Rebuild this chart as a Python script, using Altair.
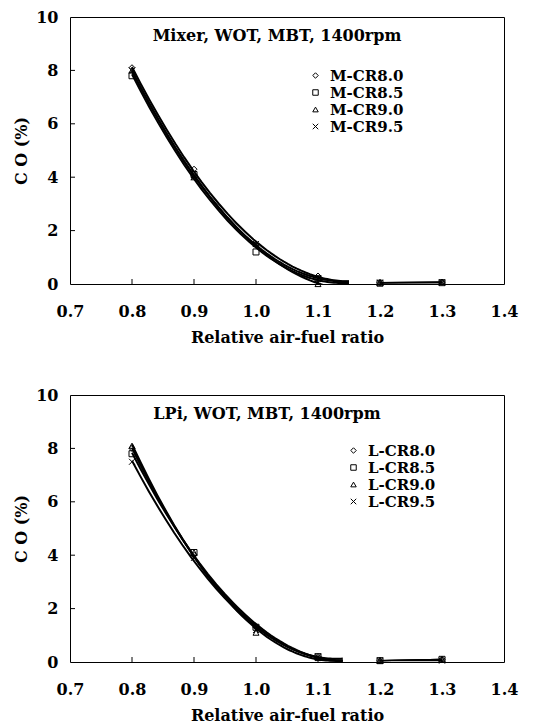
import altair as alt
import pandas as pd

# ---------------- data ----------------
afr = [0.8, 0.9, 1.0, 1.1, 1.2, 1.3]

mixer_labels = ["M-CR8.0", "M-CR8.5", "M-CR9.0", "M-CR9.5"]
m_cr80 = [8.1, 4.3, 1.5, 0.3, 0.05, 0.07]
m_cr85 = [7.8, 4.1, 1.2, 0.2, 0.03, 0.05]
m_cr90 = [8.0, 4.0, 1.5, 0.0, 0.05, 0.08]
m_cr95 = [8.0, 4.0, 1.5, 0.2, 0.05, 0.05]

lpi_labels = ["L-CR8.0", "L-CR8.5", "L-CR9.0", "L-CR9.5"]
l_cr80 = [8.0, 4.0, 1.3, 0.2, 0.05, 0.10]
l_cr85 = [7.8, 4.1, 1.3, 0.2, 0.05, 0.10]
l_cr90 = [8.1, 4.1, 1.1, 0.15, 0.05, 0.10]
l_cr95 = [7.5, 3.9, 1.2, 0.2, 0.05, 0.05]

x_tick_labels = [0.7, 0.8, 0.9, 1.0, 1.1, 1.2, 1.3, 1.4]
x_inner_ticks = [0.8, 0.9, 1.0, 1.1, 1.2, 1.3]
y_tick_labels = [0, 2, 4, 6, 8, 10]
y_inner_ticks = [2, 4, 6, 8]

shape_range = ["diamond", "square", "triangle-up", "M-1,-1L1,1M-1,1L1,-1"]

FONT = "DejaVu Serif"
W, H = 434, 267


def long_df(labels, series):
    rows = []
    for lab, vals in zip(labels, series):
        for a, v in zip(afr, vals):
            rows.append({"afr": a, "co": v, "series": lab})
    return pd.DataFrame(rows)


xs = alt.Scale(domain=[0.7, 1.4], nice=False, zero=False)
ys = alt.Scale(domain=[0, 10], nice=False)
x_axis = alt.Axis(values=x_tick_labels, format=".1f", title="Relative air-fuel ratio",
                  labelPadding=19, titlePadding=10, ticks=False, domain=False, grid=False,
                  labelFont=FONT, labelFontSize=16, labelFontWeight="bold", labelColor="black",
                  titleFont=FONT, titleFontSize=16, titleFontWeight="bold", titleColor="black",
                  labelFlush=False)
y_axis = alt.Axis(values=y_tick_labels, format="d", title="C O (%)",
                  labelPadding=12, titlePadding=6, ticks=False, domain=False, grid=False,
                  labelFont=FONT, labelFontSize=16, labelFontWeight="bold", labelColor="black",
                  titleFont=FONT, titleFontSize=16, titleFontWeight="bold", titleColor="black",
                  labelFlush=False)


def X():
    return alt.X("afr:Q", scale=xs, axis=x_axis)


def Y():
    return alt.Y("co:Q", scale=ys, axis=y_axis)


def panel(df, labels, title_text, title_x, legend_x, legend_y, fit_end):
    base = alt.Chart(df)

    points = base.mark_point(filled=False, color="black", size=36, strokeWidth=1, opacity=1).encode(
        x=X(), y=Y(),
        shape=alt.Shape(
            "series:N",
            scale=alt.Scale(domain=labels, range=shape_range),
            legend=alt.Legend(
                title=None, orient="none", legendX=legend_x, legendY=legend_y,
                labelFont=FONT, labelFontSize=15, labelFontWeight="bold", labelColor="black",
                symbolStrokeColor="black", symbolFillColor="transparent", symbolStrokeWidth=1,
                symbolSize=30, labelOffset=7, rowPadding=1, padding=0,
            ),
        ),
    )

    curves = (
        base.transform_filter("datum.afr <= 1.1")
        .transform_regression("afr", "co", groupby=["series"], method="poly", order=2,
                              extent=[0.8, fit_end])
        .mark_line(color="black", strokeWidth=2, clip=True)
        .encode(x=X(), y=Y(), detail="series:N")
    )

    tail = (
        base.transform_filter("datum.afr >= 1.2")
        .mark_line(color="black", strokeWidth=1.3, clip=True)
        .encode(x=X(), y=Y(), detail="series:N")
    )

    xt = alt.Chart(pd.DataFrame({"afr": x_inner_ticks})).mark_rule(color="black", strokeWidth=1).encode(
        x=X(), y=alt.value(H), y2=alt.value(H - 5))
    yt = alt.Chart(pd.DataFrame({"co": y_inner_ticks})).mark_rule(color="black", strokeWidth=1).encode(
        y=Y(), x=alt.value(0), x2=alt.value(5))

    title = alt.Chart(pd.DataFrame({"t": [title_text]})).mark_text(
        font=FONT, fontSize=16, fontWeight="bold", color="black", align="center", baseline="middle"
    ).encode(text="t:N", x=alt.value(title_x), y=alt.value(19))

    return alt.layer(curves, tail, points, xt, yt, title).properties(width=W, height=H)


top = panel(long_df(mixer_labels, [m_cr80, m_cr85, m_cr90, m_cr95]), mixer_labels,
            "Mixer, WOT, MBT, 1400rpm", 207, 238, 51, 1.15)
bottom = panel(long_df(lpi_labels, [l_cr80, l_cr85, l_cr90, l_cr95]), lpi_labels,
               "LPi, WOT, MBT, 1400rpm", 197, 276, 48, 1.14)

chart = (
    alt.vconcat(top, bottom, spacing=40)
    .resolve_scale(shape="independent")
    .resolve_legend(shape="independent")
    .properties(padding={"top": 0, "left": 5, "right": 5, "bottom": 5}, background="white")
    .configure_view(stroke="black", strokeWidth=1)
)

chart.save("out.html", embed_options={"renderer": "svg", "actions": False})
